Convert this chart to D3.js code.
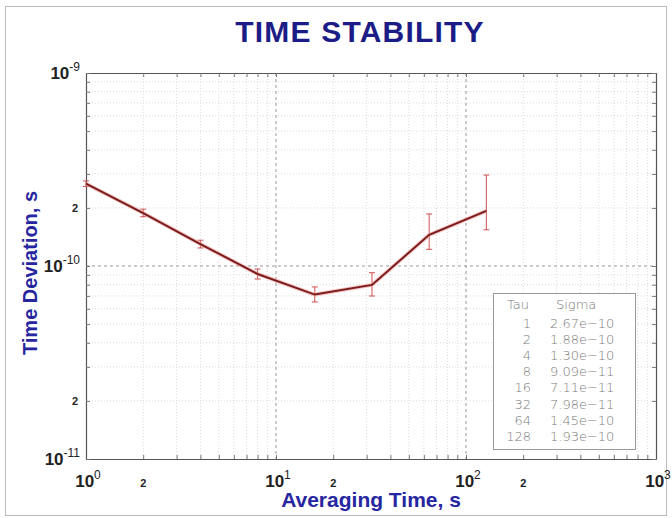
<!DOCTYPE html>
<html><head><meta charset="utf-8">
<script src="https://cdn.jsdelivr.net/npm/d3@7"></script>
<style>body{margin:0;background:#fff}</style>
</head><body>
<svg id="c" width="672" height="518"></svg>
<script>
const tau = [1, 2, 4, 8, 16, 32, 64, 128];
const sigma = [2.67e-10, 1.88e-10, 1.30e-10, 9.09e-11, 7.11e-11, 7.98e-11, 1.45e-10, 1.93e-10];
const errLow = [2.58e-10, 1.80e-10, 1.24e-10, 8.56e-11, 6.51e-11, 6.99e-11, 1.22e-10, 1.54e-10];
const errHigh = [2.76e-10, 1.97e-10, 1.36e-10, 9.65e-11, 7.79e-11, 9.23e-11, 1.86e-10, 2.96e-10];
const tauLabels = ["1", "2", "4", "8", "16", "32", "64", "128"];
const sigmaLabels = ["2.67e-10", "1.88e-10", "1.30e-10", "9.09e-11", "7.11e-11", "7.98e-11", "1.45e-10", "1.93e-10"];
const xDecades = [0, 1, 2, 3];
const yDecades = [-11, -10, -9];

const svg = d3.select("#c");
const L = 86, R = 656, T = 73, B = 459;
const x = d3.scaleLog().domain([1, 1000]).range([L, R]);
const y = d3.scaleLog().domain([1e-11, 1e-9]).range([B, T]);

// outer frame
svg.append("rect").attr("x", 5.5).attr("y", 6.5).attr("width", 661).attr("height", 509)
  .attr("fill", "#fff").attr("stroke", "#bbb").attr("stroke-width", 1);

// minor values
const xMinor = [], yMinor = [];
for (let d = 0; d < 3; d++) for (let m = 2; m <= 9; m++) xMinor.push(m * Math.pow(10, d));
for (let d = -11; d < -9; d++) for (let m = 2; m <= 9; m++) yMinor.push(m * Math.pow(10, d));

const g = svg.append("g");
// minor grid
g.selectAll(".vx").data(xMinor).join("line")
  .attr("x1", d => x(d)).attr("x2", d => x(d)).attr("y1", T).attr("y2", B)
  .attr("stroke", "#dadada").attr("stroke-width", 1).attr("stroke-dasharray", "1,2");
g.selectAll(".hy").data(yMinor).join("line")
  .attr("y1", d => y(d)).attr("y2", d => y(d)).attr("x1", L).attr("x2", R)
  .attr("stroke", "#dadada").attr("stroke-width", 1).attr("stroke-dasharray", "1,2");
// major grid
g.selectAll(".mx").data([10, 100]).join("line")
  .attr("x1", d => x(d)).attr("x2", d => x(d)).attr("y1", T).attr("y2", B)
  .attr("stroke", "#999").attr("stroke-width", 1).attr("stroke-dasharray", "3,3");
g.selectAll(".my").data([1e-10]).join("line")
  .attr("y1", d => y(d)).attr("y2", d => y(d)).attr("x1", L).attr("x2", R)
  .attr("stroke", "#999").attr("stroke-width", 1).attr("stroke-dasharray", "3,3");

// axes with inward ticks
const tickFmt = () => "";
const xb = d3.axisBottom(x).tickValues(xMinor.concat([1, 10, 100, 1000])).tickFormat(tickFmt).tickSizeInner(-4).tickSizeOuter(0);
const xt = d3.axisTop(x).tickValues(xMinor.concat([1, 10, 100, 1000])).tickFormat(tickFmt).tickSizeInner(-4).tickSizeOuter(0);
const yl = d3.axisLeft(y).tickValues(yMinor.concat([1e-11, 1e-10, 1e-9])).tickFormat(tickFmt).tickSizeInner(-4).tickSizeOuter(0);
const yr = d3.axisRight(y).tickValues(yMinor.concat([1e-11, 1e-10, 1e-9])).tickFormat(tickFmt).tickSizeInner(-4).tickSizeOuter(0);
[[xb, `translate(0,${B})`], [xt, `translate(0,${T})`], [yl, `translate(${L},0)`], [yr, `translate(${R},0)`]].forEach(([a, tr]) => {
  const ag = svg.append("g").attr("transform", tr).call(a);
  ag.select(".domain").attr("stroke", "#555").attr("stroke-width", 1.2);
  ag.selectAll(".tick line").attr("stroke", "#777");
});

// tick labels
const font = "Liberation Sans, Arial, sans-serif";
xDecades.forEach(e => {
  const t = svg.append("text").attr("x", x(Math.pow(10, e)) + 2).attr("y", 487)
    .attr("text-anchor", "middle").attr("font-family", font).attr("font-weight", "bold").attr("font-size", 17).attr("fill", "#222");
  t.append("tspan").text("10");
  t.append("tspan").attr("dy", -8).attr("font-size", 12).attr("font-weight", "normal").text(e);
});
[2, 20, 200].forEach(v => {
  svg.append("text").attr("x", x(v)).attr("y", 487).attr("text-anchor", "middle")
    .attr("font-family", font).attr("font-weight", "bold").attr("font-size", 11).attr("fill", "#222").text("2");
});
yDecades.forEach(e => {
  const t = svg.append("text").attr("x", 80).attr("y", y(Math.pow(10, e)) + 6)
    .attr("text-anchor", "end").attr("font-family", font).attr("font-weight", "bold").attr("font-size", 17).attr("fill", "#222");
  t.append("tspan").text("10");
  t.append("tspan").attr("dy", -8).attr("font-size", 12).attr("font-weight", "normal").text(e);
});
[2e-11, 2e-10].forEach(v => {
  svg.append("text").attr("x", 78).attr("y", y(v) + 4).attr("text-anchor", "end")
    .attr("font-family", font).attr("font-weight", "bold").attr("font-size", 11).attr("fill", "#222").text("2");
});

// title and axis titles
svg.append("text").attr("x", 360).attr("y", 42).attr("text-anchor", "middle")
  .attr("font-family", font).attr("font-weight", "bold").attr("font-size", 30).attr("letter-spacing", 1.2).attr("fill", "#1c1c86")
  .text("TIME STABILITY");
svg.append("text").attr("x", 371).attr("y", 507).attr("text-anchor", "middle")
  .attr("font-family", font).attr("font-weight", "bold").attr("font-size", 21).attr("fill", "#2626a0")
  .text("Averaging Time, s");
svg.append("text").attr("transform", "translate(37,273) rotate(-90)").attr("text-anchor", "middle")
  .attr("font-family", font).attr("font-weight", "bold").attr("font-size", 20).attr("fill", "#2626a0")
  .text("Time Deviation, s");

// error bars
const eb = svg.append("g").attr("stroke", "#d05050").attr("stroke-width", 1);
tau.forEach((t, i) => {
  const cx = x(t);
  eb.append("line").attr("x1", cx).attr("x2", cx).attr("y1", y(errLow[i])).attr("y2", y(errHigh[i]));
  eb.append("line").attr("x1", cx - 3).attr("x2", cx + 3).attr("y1", y(errLow[i])).attr("y2", y(errLow[i]));
  eb.append("line").attr("x1", cx - 3).attr("x2", cx + 3).attr("y1", y(errHigh[i])).attr("y2", y(errHigh[i]));
});

// line
const line = d3.line().x((d, i) => x(tau[i])).y(d => y(d));
svg.append("path").datum(sigma).attr("d", line).attr("fill", "none")
  .attr("stroke", "#f0a0a0").attr("stroke-width", 4).attr("opacity", 0.6);
svg.append("path").datum(sigma).attr("d", line).attr("fill", "none")
  .attr("stroke", "#7a1c1c").attr("stroke-width", 2);

// legend table
const lg = svg.append("g");
lg.append("rect").attr("x", 493.5).attr("y", 293.5).attr("width", 142).attr("height", 156)
  .attr("fill", "#fff").attr("stroke", "#999").attr("stroke-width", 1);
const lf = "DejaVu Sans, sans-serif";
const lc = "#7a7a7a", ls = 13;
lg.append("text").attr("x", 518).attr("y", 309).attr("text-anchor", "middle").attr("font-family", lf)
  .attr("font-size", ls).attr("font-weight", "200").attr("fill", lc).text("Tau");
lg.append("text").attr("x", 556).attr("y", 309).attr("font-family", lf)
  .attr("font-size", ls).attr("font-weight", "200").attr("fill", lc).text("Sigma");
tauLabels.forEach((t, i) => {
  lg.append("text").attr("x", 531).attr("y", 328 + i * 16.1).attr("text-anchor", "end").attr("font-family", lf)
    .attr("font-size", ls).attr("font-weight", "200").attr("fill", lc).text(t);
  lg.append("text").attr("x", 550).attr("y", 328 + i * 16.1).attr("font-family", lf)
    .attr("font-size", ls).attr("font-weight", "200").attr("fill", lc).text(sigmaLabels[i].replace("-", "\u2212"));
});
</script>
</body></html>
